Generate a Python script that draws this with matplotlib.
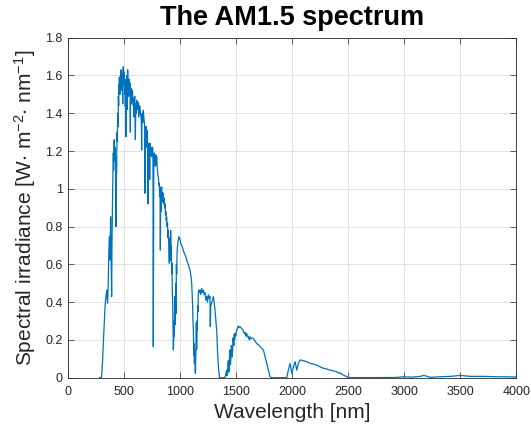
import numpy as np
import matplotlib
matplotlib.use("Agg")
import matplotlib.pyplot as plt
from matplotlib.ticker import FuncFormatter

plt.rcParams['font.family'] = ['Liberation Sans', 'DejaVu Sans']
plt.rcParams['mathtext.default'] = 'regular'

# AM1.5 spectrum, split in three bands
wl_vis = [280, 295, 298, 305, 312, 319, 328, 335, 343, 351, 356, 360, 366, 372, 378, 383,
          387, 390, 393, 396, 402, 405, 408, 411, 414, 416, 420, 423, 426, 429, 432, 435,
          438, 441, 443, 445, 447, 450, 452, 454, 456, 458, 461, 463, 466, 468, 471, 473,
          476, 478, 481, 484, 486, 488, 491, 493, 495, 497, 500, 503, 505, 507, 509, 512,
          515, 518, 521, 524, 526, 528, 530, 533, 535, 537, 539, 542, 545, 548, 551, 554,
          556, 560, 563, 565, 568, 570, 573, 575, 578, 581, 584, 587, 590, 593, 596, 599,
          602, 604, 607, 610, 614, 617, 621, 625, 628, 632, 636, 640, 644, 648, 652, 655,
          658, 661, 664, 666, 670, 674, 678, 682, 685, 689, 694, 697]
irr_vis = [0, 0, 0.01, 0.08, 0.17, 0.25, 0.376, 0.42, 0.464, 0.394, 0.48, 0.606, 0.746, 0.623, 0.852, 0.62,
           0.43, 0.70, 0.85, 0.99, 1.19, 1.10, 1.25, 1.26, 1.15, 1.22, 1.205, 1.10, 0.80, 1.05, 1.10, 1.30,
           1.25, 1.38, 1.40, 1.33, 1.49, 1.44, 1.55, 1.50, 1.59, 1.52, 1.50, 1.58, 1.60, 1.53, 1.63, 1.56,
           1.52, 1.61, 1.60, 1.54, 1.45, 1.58, 1.646, 1.57, 1.55, 1.62, 1.59, 1.55, 1.50, 1.58, 1.435, 1.52,
           1.276, 1.48, 1.56, 1.60, 1.42, 1.55, 1.63, 1.55, 1.52, 1.57, 1.49, 1.55, 1.58, 1.50, 1.56, 1.30,
           1.47, 1.45, 1.52, 1.53, 1.50, 1.46, 1.52, 1.49, 1.45, 1.44, 1.48, 1.38, 1.46, 1.49, 1.42, 1.26,
           1.43, 1.45, 1.40, 1.47, 1.42, 1.42, 1.46, 1.45, 1.38, 1.40, 1.44, 1.435, 1.40, 1.39, 1.36, 1.205,
           1.38, 1.40, 1.35, 1.37, 1.416, 1.38, 1.36, 1.32, 0.976, 1.25, 1.33, 1.28]

wl_nir = [700, 703, 706, 709, 712, 715, 718, 721, 724, 727, 730, 734, 738, 741, 745, 749,
          753, 756, 759, 761, 763, 766, 768, 772, 775, 778, 782, 786, 789, 793, 797, 800,
          804, 808, 812, 816, 819, 822, 825, 828, 830, 834, 838, 841, 845, 849, 853, 856,
          860, 864, 868, 871, 875, 878, 882, 886, 890, 893, 897, 902, 905, 908, 911, 914,
          917, 920, 923, 926, 929, 932, 935, 938, 941, 944, 947, 950, 953, 956, 959, 962,
          965, 968, 971, 974, 980, 986, 992, 998, 1005, 1012, 1020, 1027, 1035, 1042, 1050, 1057,
          1065, 1072, 1080, 1087, 1095, 1102, 1106, 1110, 1113, 1117, 1120, 1123, 1126, 1129, 1132, 1135,
          1138, 1141, 1143, 1146, 1148, 1150, 1152, 1155, 1158, 1161, 1164, 1170, 1176, 1183, 1191, 1198,
          1206, 1214, 1221, 1228, 1236, 1243, 1250, 1258, 1265, 1268, 1272, 1280, 1287, 1295, 1302, 1310,
          1318, 1325, 1332, 1340, 1350]
irr_nir = [1.28, 1.22, 1.31, 1.18, 0.92, 1.15, 1.24, 1.12, 1.20, 1.05, 1.24, 1.18, 1.19, 1.22, 1.17, 1.20,
           1.22, 1.15, 0.164, 0.60, 1.10, 1.15, 1.19, 1.14, 1.16, 1.12, 1.18, 1.13, 1.17, 1.12, 1.10, 1.07,
           1.064, 1.02, 1.03, 0.96, 1.01, 0.676, 0.958, 0.88, 0.99, 1.01, 0.95, 0.98, 0.93, 0.976, 0.92, 0.95,
           0.90, 0.92, 0.86, 0.88, 0.83, 0.85, 0.80, 0.82, 0.74, 0.78, 0.70, 0.606, 0.72, 0.74, 0.62, 0.78,
           0.66, 0.70, 0.55, 0.606, 0.45, 0.40, 0.25, 0.147, 0.20, 0.30, 0.22, 0.43, 0.28, 0.38, 0.50, 0.34,
           0.60, 0.55, 0.66, 0.69, 0.72, 0.746, 0.74, 0.73, 0.71, 0.70, 0.69, 0.676, 0.66, 0.65, 0.64, 0.623,
           0.61, 0.60, 0.58, 0.57, 0.54, 0.50, 0.44, 0.38, 0.30, 0.25, 0.12, 0.18, 0.076, 0.15, 0.05, 0.023,
           0.10, 0.18, 0.29, 0.15, 0.20, 0.30, 0.25, 0.38, 0.35, 0.44, 0.464, 0.45, 0.464, 0.44, 0.473, 0.45,
           0.464, 0.44, 0.45, 0.41, 0.43, 0.40, 0.44, 0.42, 0.43, 0.27, 0.38, 0.394, 0.41, 0.43, 0.40, 0.358,
           0.30, 0.25, 0.147, 0.06, 0.0]

wl_swir = [1370, 1399, 1414, 1418, 1422, 1425, 1429, 1433, 1437, 1440, 1444, 1448, 1452, 1455, 1459, 1463,
           1467, 1470, 1474, 1478, 1482, 1485, 1489, 1495, 1503, 1510, 1518, 1525, 1533, 1548, 1563, 1570,
           1578, 1585, 1593, 1600, 1608, 1615, 1623, 1630, 1638, 1652, 1667, 1682, 1697, 1712, 1727, 1742,
           1757, 1772, 1787, 1801, 1816, 1950, 1965, 1980, 1995, 2010, 2025, 2040, 2055, 2069, 2099, 2129,
           2159, 2189, 2218, 2248, 2278, 2308, 2337, 2367, 2397, 2412, 2426, 2441, 2456, 2471, 2486, 2500,
           2600, 2870, 2920, 2995, 3070, 3144, 3174, 3233, 3322, 3412, 3501, 3590, 3710, 3829, 3978, 4000]
irr_swir = [0, 0, 0.04, 0.01, 0.02, 0.07, 0.09, 0.03, 0.05, 0.12, 0.147, 0.07, 0.10, 0.17, 0.165, 0.11,
            0.14, 0.21, 0.20, 0.17, 0.23, 0.20, 0.235, 0.22, 0.25, 0.26, 0.274, 0.265, 0.27, 0.26, 0.25, 0.235,
            0.24, 0.22, 0.235, 0.215, 0.22, 0.20, 0.217, 0.205, 0.21, 0.208, 0.195, 0.18, 0.175, 0.165, 0.155, 0.147,
            0.11, 0.076, 0.04, 0.005, 0, 0, 0.04, 0.076, 0.023, 0.058, 0.085, 0.04, 0.076, 0.094, 0.09, 0.085,
            0.076, 0.072, 0.067, 0.058, 0.05, 0.046, 0.04, 0.036, 0.032, 0.024, 0.027, 0.018, 0.014, 0.01, 0.005, 0.001,
            0.0005, 0.0005, 0.001, 0.005, 0.003, 0.007, 0.012, 0.002, 0.005, 0.007, 0.012, 0.007, 0.007, 0.005, 0.004, 0.004]

wavelength = np.array(wl_vis + wl_nir + wl_swir)
irradiance = np.array(irr_vis + irr_nir + irr_swir)

fig = plt.figure(figsize=(5.31, 4.32), dpi=100)
ax = fig.add_axes([0.1286, 0.1257, 0.8437, 0.787])

ax.plot(wavelength, irradiance, color='#0072BD', linewidth=0.9)

ax.set_xlim(0, 4000)
ax.set_ylim(0, 1.8)
ax.set_xticks(np.arange(0, 4001, 500))
ax.set_yticks(np.arange(0, 1.81, 0.2))
ax.yaxis.set_major_formatter(FuncFormatter(lambda v, p: f'{v:g}'))

ax.grid(True, color='#dedede', linewidth=0.6)
ax.set_axisbelow(True)
for s in ax.spines.values():
    s.set_color('#262626')
    s.set_linewidth(0.6)
ax.tick_params(direction='in', top=True, right=True, length=4, width=0.5,
               colors='#262626', labelsize=9)
ax.tick_params(axis='x', pad=6)
ax.tick_params(axis='y', pad=4)

ax.set_title('The AM1.5 spectrum', fontsize=19.5, fontweight='bold', pad=9)
ax.set_xlabel('Wavelength [nm]', fontsize=15, color='#262626')
ax.set_ylabel('Spectral irradiance [W$\\cdot$ m$^{-2}$$\\cdot$ nm$^{-1}$]', fontsize=15, color='#262626')
ax.xaxis.set_label_coords(0.5, -0.074)
ax.yaxis.set_label_coords(-0.068, 0.5)

fig.savefig('out.png', dpi=100)
